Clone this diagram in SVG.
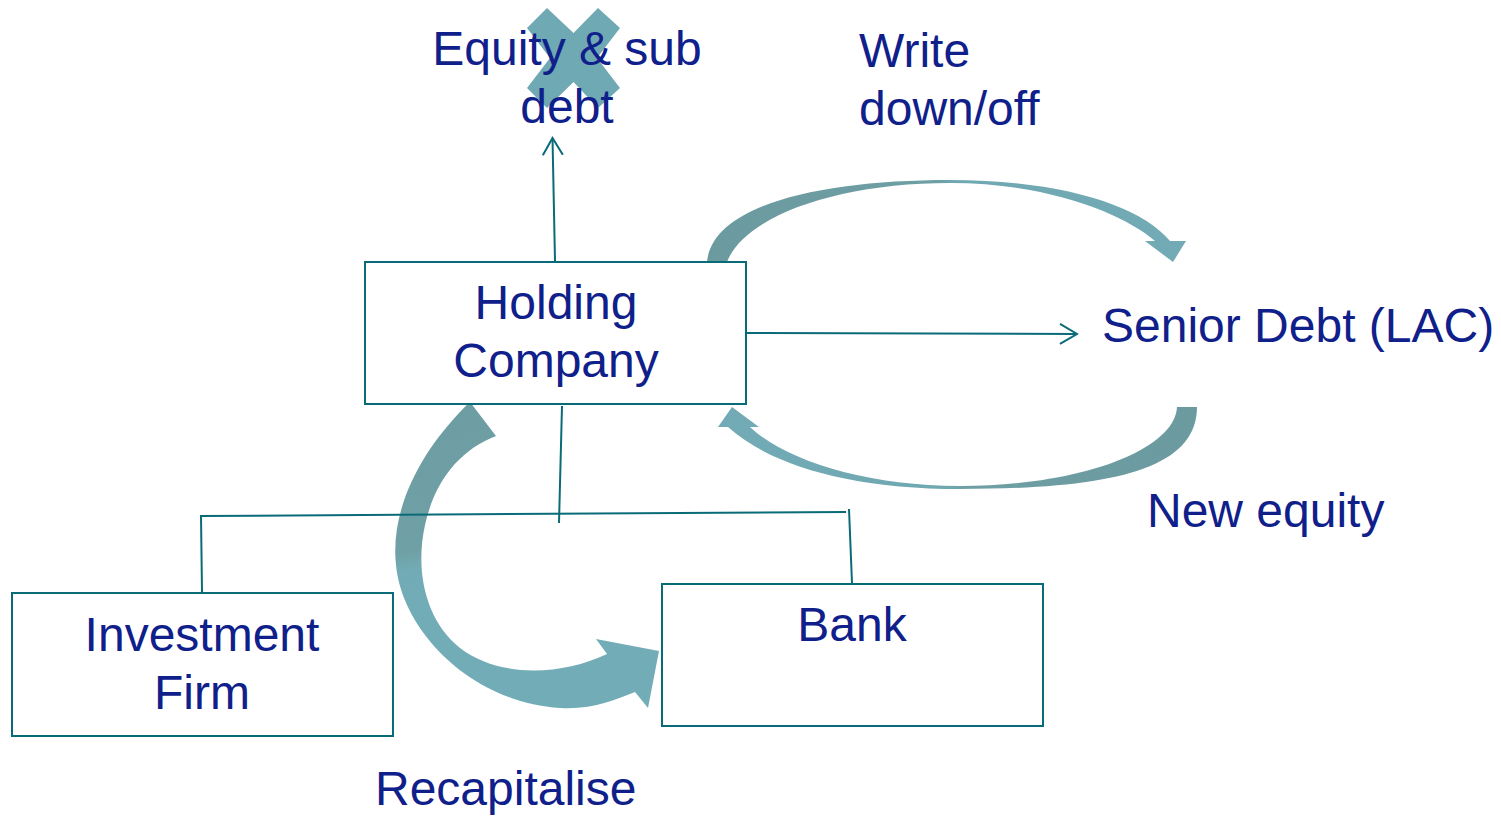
<svg xmlns="http://www.w3.org/2000/svg" width="1501" height="816" viewBox="0 0 1501 816">
<style>
.box{fill:#ffffff;stroke:#0A6B78;stroke-width:2}
.ln{fill:none;stroke:#0A6B78;stroke-width:2}
.t{font-family:"Liberation Sans",Arial,sans-serif;font-size:48px;fill:#10208B}
.c{text-anchor:middle}
</style>
<defs>
<marker id="open" markerUnits="userSpaceOnUse" viewBox="0 0 20 22" markerWidth="20" markerHeight="22" refX="18" refY="11" orient="auto">
<path d="M1,1 L18,11 L1,21" fill="none" stroke="#0A6B78" stroke-width="2"/>
</marker>
<linearGradient id="gTop" gradientUnits="userSpaceOnUse" x1="707" y1="0" x2="1186" y2="0">
<stop offset="0" stop-color="#6B9A9F"/>
<stop offset="0.48" stop-color="#6E9FA4"/>
<stop offset="0.52" stop-color="#70A8B2"/>
<stop offset="1" stop-color="#72ABB5"/>
</linearGradient>
<linearGradient id="gBot" gradientUnits="userSpaceOnUse" x1="1197" y1="0" x2="718" y2="0">
<stop offset="0" stop-color="#6B9A9F"/>
<stop offset="0.48" stop-color="#6E9FA4"/>
<stop offset="0.52" stop-color="#70A8B2"/>
<stop offset="1" stop-color="#72ABB5"/>
</linearGradient>
<linearGradient id="gRec" gradientUnits="userSpaceOnUse" x1="0" y1="402" x2="60" y2="708">
<stop offset="0" stop-color="#6C9CA1"/>
<stop offset="0.72" stop-color="#6FA0A5"/>
<stop offset="0.78" stop-color="#72ABB5"/>
<stop offset="1" stop-color="#72ADB7"/>
</linearGradient>
</defs>

<g id="curved-arrows">
<path id="write-down-arrow" fill="url(#gTop)" d="M707,262 C712,205 820,180 950,180 C1060,180 1140,205 1170,241 L1186,241 L1173,262 L1145,241 L1155,241 C1125,215 1050,183 950,183 C840,183 745,215 727,262 Z"/>
<path id="new-equity-arrow" fill="url(#gBot)" d="M1197,407 C1197,470 1110,489 960,489 C850,489 770,465 728,427 L718,427 L732,407 L759,427 L750,427 C785,460 865,486 960,486 C1080,486 1175,450 1177,407 Z"/>
<path id="recapitalise-arrow" fill="url(#gRec)" d="M470,402 C420,450 390,510 396,565 C402,630 470,702 560,708 C592,710 615,700 635,692 L648,708 L659,651 L596,639 L607,654 C560,676 500,678 460,648 C425,620 415,570 425,525 C435,480 460,450 496,436 Z"/>
</g>

<g id="cross-mark">
<polygon fill="#6FA9B3" points="547,8 573.5,33 598,8 620,28 597,58 620,88 598,108 573.5,82 547,108 527,88 550,58 527,28"/>
</g>

<g id="connectors">
<line class="ln" x1="555" y1="261" x2="552.5" y2="138" marker-end="url(#open)"/>
<line class="ln" x1="747" y1="333" x2="1077" y2="334" marker-end="url(#open)"/>
<line class="ln" x1="562" y1="406" x2="559" y2="523"/>
<line class="ln" x1="200" y1="516" x2="846" y2="512"/>
<line class="ln" x1="201" y1="516" x2="202" y2="592"/>
<line class="ln" x1="849" y1="509" x2="852" y2="583"/>
</g>

<g id="holding-company">
<rect class="box" x="365" y="262" width="381" height="142"/>
<text class="t c" x="556" y="319">Holding</text>
<text class="t c" x="556" y="377">Company</text>
</g>

<g id="investment-firm">
<rect class="box" x="12" y="593" width="381" height="143"/>
<text class="t c" x="202" y="651">Investment</text>
<text class="t c" x="202" y="709">Firm</text>
</g>

<g id="bank">
<rect class="box" x="662" y="584" width="381" height="142"/>
<text class="t c" x="852" y="641">Bank</text>
</g>

<g id="equity-sub-debt">
<text class="t c" x="567" y="65">Equity &amp; sub</text>
<text class="t c" x="567" y="123">debt</text>
</g>

<g id="write-down-off">
<text class="t" x="859" y="67">Write</text>
<text class="t" x="859" y="125">down/off</text>
</g>

<g id="senior-debt">
<text class="t" x="1102" y="342">Senior Debt (LAC)</text>
</g>

<g id="new-equity">
<text class="t" x="1147" y="527">New equity</text>
</g>

<g id="recapitalise">
<text class="t" x="375" y="805">Recapitalise</text>
</g>
</svg>
